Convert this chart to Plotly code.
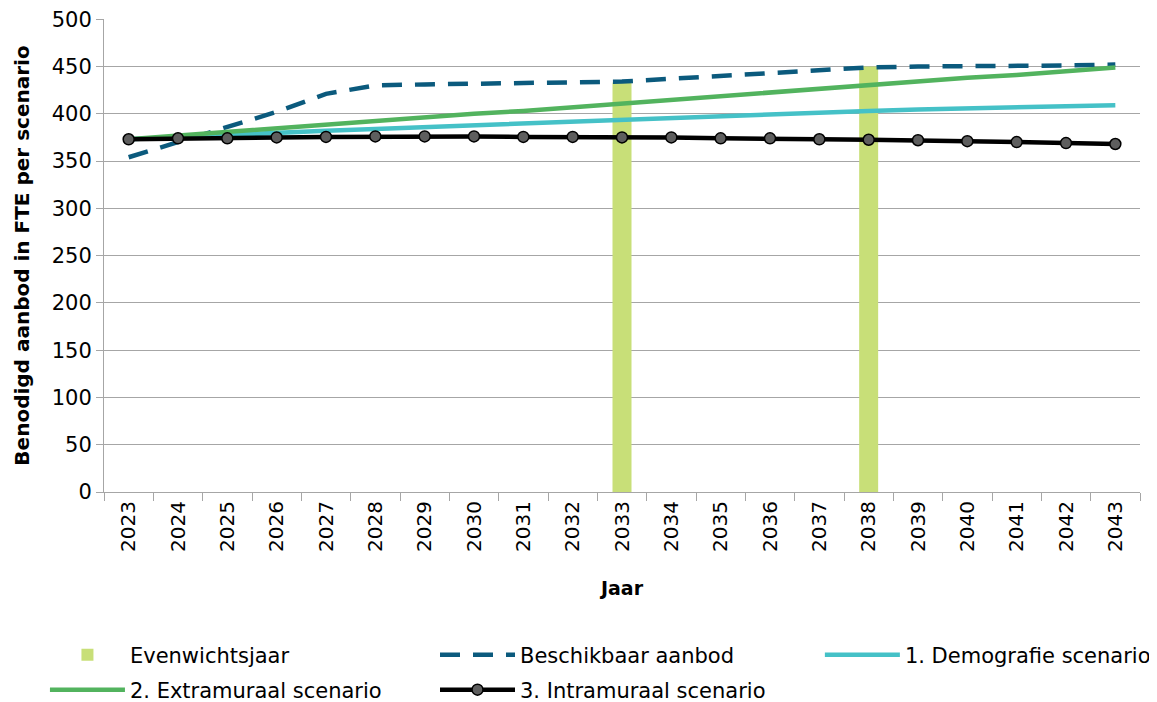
import plotly.graph_objects as go

years = [str(y) for y in range(2023, 2044)]

evenwicht_years = ["2033", "2038"]
evenwicht_values = [433, 450]

beschikbaar = [354, 370, 386, 402, 421, 430, 431, 432, 433, 433, 434,
               437, 440, 443, 446, 449, 450, 450, 451, 451, 452]
demografie = [373, 375.5, 378, 380, 382, 384, 386, 388, 390, 392, 394,
              396, 398, 400, 401.5, 403, 404.5, 406, 407, 408, 409]
extramuraal = [373, 377, 381, 385, 388, 392, 396, 400, 403, 407, 411,
               415, 419, 422, 426, 430, 434, 438, 441, 445, 449]
intramuraal = [373, 374, 374, 375, 375.5, 376, 376, 376, 375.5, 375.5, 375,
               375, 374, 374, 373, 372.5, 372, 371, 370, 369, 368]

yticks = list(range(0, 501, 50))

FONT = "'DejaVu Sans', sans-serif"
GRID = "#A6A6A6"

fig = go.Figure()
fig.add_trace(go.Bar(x=evenwicht_years, y=evenwicht_values, name="Evenwichtsjaar",
                     marker=dict(color="#C8DF78", line=dict(width=0)), width=0.385,
                     legend="legend"))
fig.add_trace(go.Scatter(x=years, y=beschikbaar, name="Beschikbaar aanbod", mode="lines",
                         line=dict(color="#0B5A7D", width=4.5, dash="20px,13px"),
                         legend="legend2"))
fig.add_trace(go.Scatter(x=years, y=demografie, name="1. Demografie scenario", mode="lines",
                         line=dict(color="#45C1C7", width=4.5), legend="legend3"))
fig.add_trace(go.Scatter(x=years, y=extramuraal, name="2. Extramuraal scenario", mode="lines",
                         line=dict(color="#52B35E", width=4.5), legend="legend4"))
fig.add_trace(go.Scatter(x=years, y=intramuraal, name="3. Intramuraal scenario", mode="lines+markers",
                         line=dict(color="#000000", width=4.5),
                         marker=dict(size=11, color="#5E5E5E", line=dict(color="#000000", width=1.5)),
                         legend="legend5"))

legend_common = dict(orientation="h", xanchor="left", yanchor="middle",
                     font=dict(size=21, family=FONT, color="#000000"),
                     traceorder="normal", itemwidth=75,
                     bgcolor="rgba(0,0,0,0)")

col_x = [-0.057, 0.3195, 0.691]
row_y = [-0.3446, -0.4186]

# page has an 8px body margin; compensate so plot area lands at 104..1140 x 19..492
fig.update_layout(
    width=1149, height=694,
    margin=dict(l=96, r=17, t=11, b=210, autoexpand=False),
    paper_bgcolor="white", plot_bgcolor="white",
    font=dict(family=FONT, size=20, color="#000000"),
    showlegend=True,
    legend=dict(x=col_x[0], y=row_y[0], **legend_common),
    legend2=dict(x=col_x[1], y=row_y[0], **legend_common),
    legend3=dict(x=col_x[2], y=row_y[0], **legend_common),
    legend4=dict(x=col_x[0], y=row_y[1], **legend_common),
    legend5=dict(x=col_x[1], y=row_y[1], **legend_common),
)

fig.update_xaxes(
    type="category", categoryorder="array", categoryarray=years,
    tickmode="array", tickvals=years, ticktext=years,
    tickangle=-90, tickson="boundaries", ticks="outside", ticklen=8,
    tickcolor=GRID, showline=True, linecolor=GRID, linewidth=1,
    showgrid=False, tickfont=dict(size=20, family=FONT),
    title=dict(text="<b>Jaar</b>", font=dict(size=19, family=FONT), standoff=30),
    range=[-0.5, 20.5], automargin=False, ticklabeloverflow="allow",
)
fig.update_yaxes(
    range=[0, 500.2], tickmode="array", tickvals=yticks,
    ticks="outside", ticklen=7, tickcolor=GRID,
    showline=True, linecolor=GRID, linewidth=1,
    showgrid=True, gridcolor=GRID, gridwidth=1, zeroline=False,
    tickfont=dict(size=21, family=FONT),
    title=dict(text="<b>Benodigd aanbod in FTE per scenario</b>", font=dict(size=20, family=FONT), standoff=16),
    automargin=False, ticklabeloverflow="allow",
)

fig.write_html("out.html")
